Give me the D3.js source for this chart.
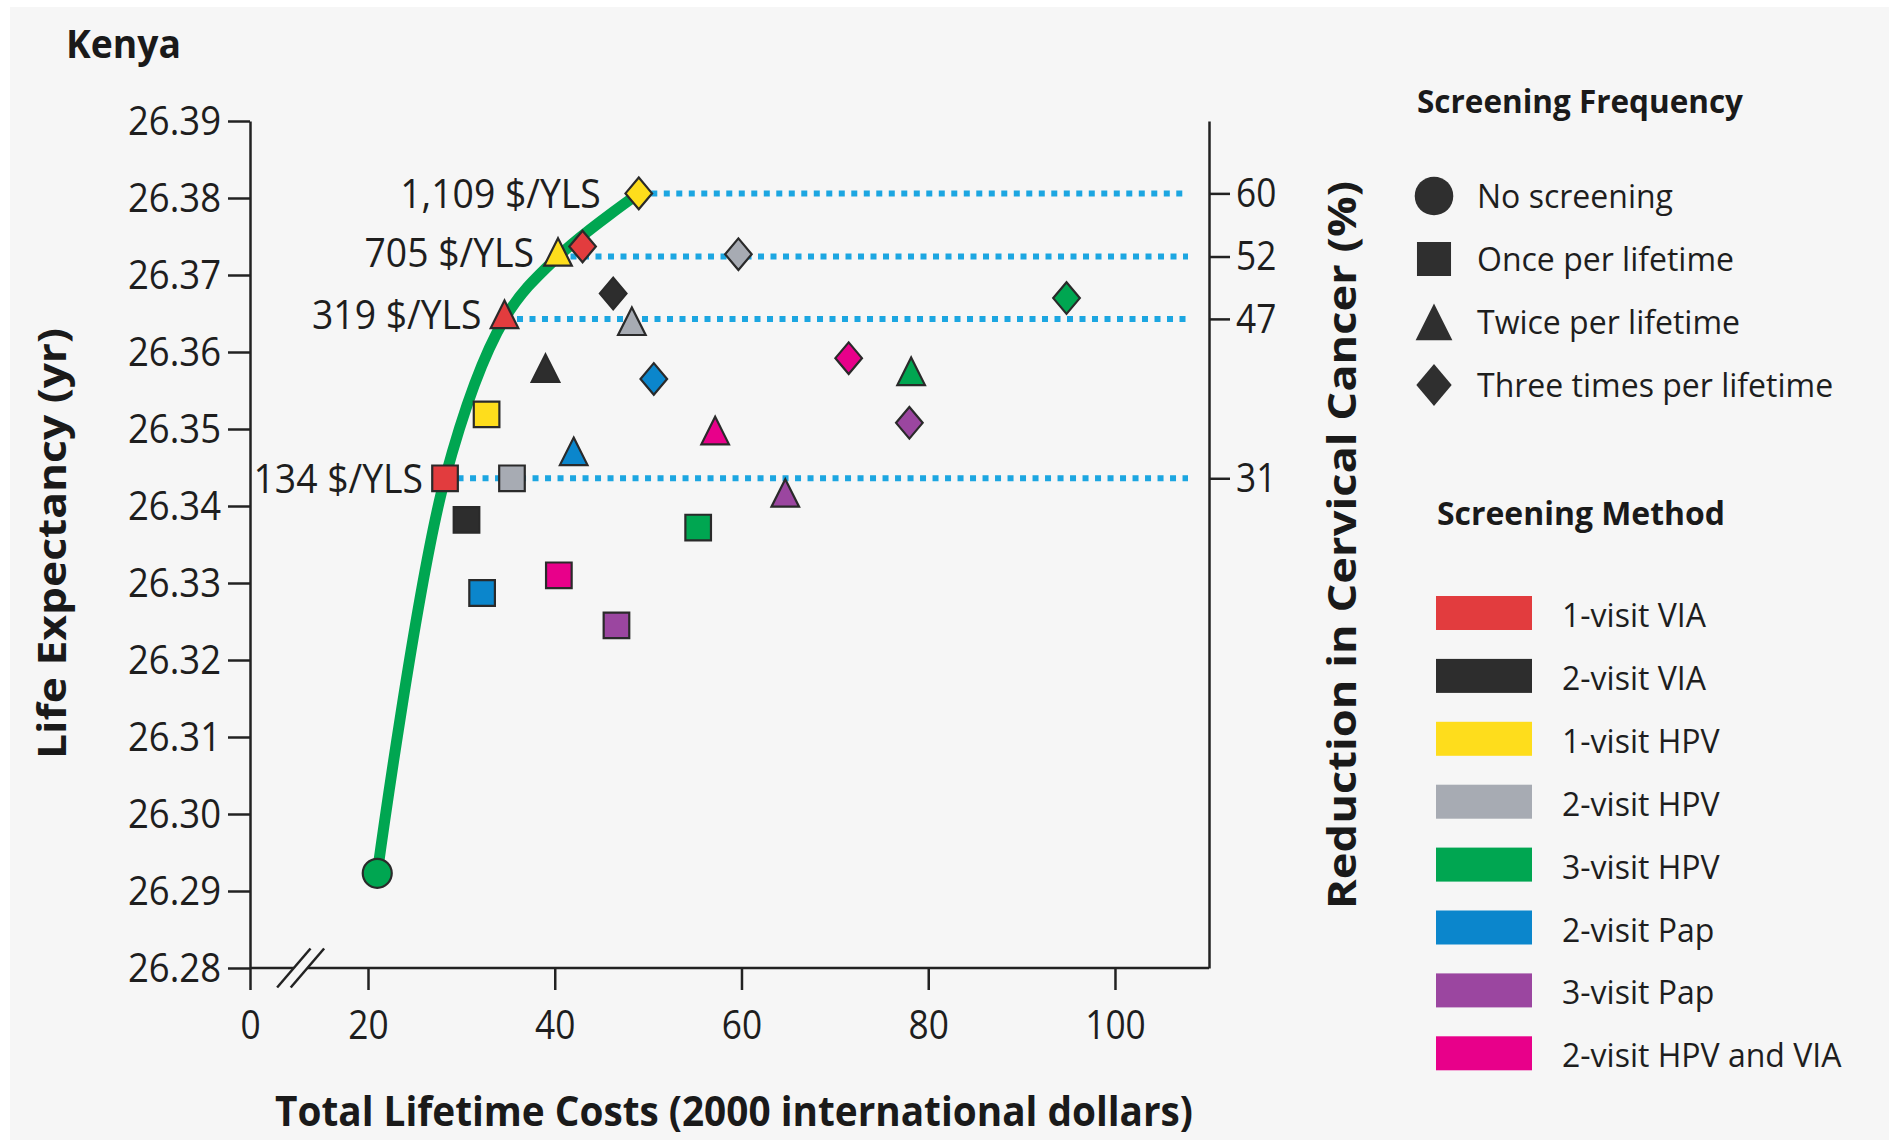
<!DOCTYPE html>
<html>
<head>
<meta charset="utf-8">
<script src="https://cdn.jsdelivr.net/npm/d3@7"></script>
<style>
  html, body { margin: 0; padding: 0; background: #fff; }
  svg { display: block; font-family: 'Open Sans', 'Noto Sans', sans-serif; }
  .axis text { font-size: 41px; fill: #1e1e1e; font-family: 'Open Sans', sans-serif; }
  .axis line, .axis path { stroke: #222; stroke-width: 2.5; }
</style>
</head>
<body>
<div id="chart"></div>
<script>
;(function () {
  // ---- data ----
  const methods = ['1-visit VIA', '2-visit VIA', '1-visit HPV', '2-visit HPV',
    '3-visit HPV', '2-visit Pap', '3-visit Pap', '2-visit HPV and VIA']
  const methodColors = ['#e23c3e', '#2d2d2d', '#fedd1c', '#a7abb3',
    '#00a651', '#0b86cc', '#9b46a0', '#e8008a']
  const frequencies = ['No screening', 'Once per lifetime', 'Twice per lifetime',
    'Three times per lifetime']
  const shapes = ['circle', 'square', 'triangle', 'diamond']

  // total lifetime costs (2000 international dollars), one value per method
  const costOnce = [28.25, 30.55, 32.7, 35.42, 55.36, 32.22, 46.61, 40.44]
  const costTwice = [34.62, 39.01, 40.35, 48.26, 78.17, 42.03, 64.69, 57.18]
  const costThree = [42.98, 46.26, 49.0, 59.67, 94.81, 50.61, 77.98, 71.48]
  // life expectancy (yr)
  const lifeOnce = [26.3436, 26.3382, 26.3519, 26.3436, 26.3372, 26.3287, 26.3245, 26.331]
  const lifeTwice = [26.3643, 26.3573, 26.3724, 26.3634, 26.3569, 26.3465, 26.3411, 26.3492]
  const lifeThree = [26.3737, 26.3676, 26.3806, 26.3727, 26.367, 26.3565, 26.3508, 26.3592]
  const noScreenCost = 20.99
  const noScreenLife = 26.2923

  // efficient frontier: [method index (-1 = none), frequency index]
  const frontier = [[-1, 0], [0, 1], [0, 2], [2, 2], [2, 3]]
  const frontierIcer = [null, '134 $/YLS', '319 $/YLS', '705 $/YLS', '1,109 $/YLS']
  const frontierReduction = [null, 31, 47, 52, 60]

  const xTicks = [0, 20, 40, 60, 80, 100]
  const yTicks = [26.28, 26.29, 26.3, 26.31, 26.32, 26.33, 26.34, 26.35, 26.36, 26.37, 26.38, 26.39]

  // ---- layout ----
  const W = 1889, H = 1140
  const axisLeftX = 250, axisRightX = 1209, axisBottomY = 968, axisTopY = 121
  const breakAt = 8.58 // value on the broken x axis where the // sits
  const breakGap = 6.8
  const labelGap = [0, 22, 23, 24, 38]
  const dotEnd = axisRightX - 21

  const svg = d3.select('#chart').append('svg').attr('width', W).attr('height', H)
  svg.append('rect').attr('x', 10).attr('y', 7).attr('width', W - 10).attr('height', H - 7)
    .attr('fill', '#f6f6f6')

  // piecewise scale handles the 0 .. 20 axis break
  const x = d3.scaleLinear().domain([0, 20, 110.07]).range([axisLeftX, 368, axisRightX])
  const y = d3.scaleLinear().domain([26.28, 26.39]).range([axisBottomY, axisTopY])

  // build point table
  const points = []
  points.push({ m: -1, f: 0, cost: noScreenCost, life: noScreenLife })
  ;[costOnce, costTwice, costThree].forEach((costs, fi) => {
    const lifes = [lifeOnce, lifeTwice, lifeThree][fi]
    methods.forEach((m, mi) => {
      points.push({ m: mi, f: fi + 1, cost: costs[mi], life: lifes[mi] })
    })
  })
  const findPoint = (mi, fi) => points.find(p => p.m === mi && p.f === fi)
  const frontierPts = frontier.map(([mi, fi]) => findPoint(mi, fi))

  function shapePath(shape, big) {
    const k = big ? 1.33 : 1
    if (shape === 'circle') {
      const r = 14.5 * k
      return `M${r},0A${r},${r} 0 1,1 ${-r},0A${r},${r} 0 1,1 ${r},0Z`
    }
    if (shape === 'square') {
      const s = 12.8 * k
      return `M${-s},${-s}H${s}V${s}H${-s}Z`
    }
    if (shape === 'triangle') {
      const hw = 13.8 * k, h = 27.5 * k
      return `M0,${-2 * h / 3}L${hw},${h / 3}L${-hw},${h / 3}Z`
    }
    const hw = 13.3 * k, hh = 15.8 * k
    return `M0,${-hh}L${hw},0L0,${hh}L${-hw},0Z`
  }
  const centerShift = shape => (shape === 'triangle' ? -4.5 : 0)

  function squeeze(sel, k) {
    sel.each(function () {
      const w = this.getComputedTextLength()
      d3.select(this).attr('textLength', w * k).attr('lengthAdjust', 'spacingAndGlyphs')
    })
  }

  // ---- axes ----
  const gx = svg.append('g').attr('class', 'axis')
    .attr('transform', `translate(0,${axisBottomY})`)
    .call(d3.axisBottom(x).tickValues(xTicks).tickSize(22).tickPadding(20).tickFormat(d3.format('d')))
    .call(g => g.select('.domain').remove())
  squeeze(gx.selectAll('text'), 0.86)

  const xb = x(breakAt)
  svg.append('path')
    .attr('d', `M${axisLeftX},${axisBottomY}H${xb - breakGap}M${xb + breakGap},${axisBottomY}H${axisRightX}`)
    .attr('stroke', '#222').attr('stroke-width', 2.5).attr('fill', 'none')
  ;[-breakGap, breakGap].forEach(o => {
    svg.append('line')
      .attr('x1', xb + o - 16.7).attr('y1', axisBottomY + 19.5)
      .attr('x2', xb + o + 16.7).attr('y2', axisBottomY - 19.5)
      .attr('stroke', '#222').attr('stroke-width', 2.5)
  })

  const gy = svg.append('g').attr('class', 'axis')
    .attr('transform', `translate(${axisLeftX},0)`)
    .call(d3.axisLeft(y).tickValues(yTicks).tickSize(22).tickSizeOuter(0).tickPadding(7).tickFormat(d3.format('.2f')))
  squeeze(gy.selectAll('text'), 0.89)

  const gr = svg.append('g').attr('class', 'axis')
    .attr('transform', `translate(${axisRightX},0)`)
    .call(d3.axisRight(y)
      .tickValues(frontierPts.slice(1).map(p => p.life))
      .tickSize(21).tickSizeOuter(0).tickPadding(6)
      .tickFormat((d, i) => frontierReduction[i + 1]))
  squeeze(gr.selectAll('text'), 0.86)

  // ---- dotted reference lines ----
  svg.append('g').selectAll('line')
    .data(frontierPts.slice(1))
    .enter().append('line')
    .attr('x1', d => x(d.cost)).attr('x2', dotEnd)
    .attr('y1', d => y(d.life)).attr('y2', d => y(d.life))
    .attr('stroke', '#1ca6e1').attr('stroke-width', 6)
    .attr('stroke-dasharray', '6 6.5')

  // ---- frontier curve ----
  svg.append('path')
    .datum(frontierPts)
    .attr('fill', 'none')
    .attr('stroke', '#00a651')
    .attr('stroke-width', 11)
    .attr('stroke-linecap', 'round')
    .attr('d', d3.line().x(d => x(d.cost)).y(d => y(d.life)).curve(d3.curveCatmullRom.alpha(0.5)))

  // ---- markers ----
  svg.append('g').selectAll('path')
    .data(points)
    .enter().append('path')
    .attr('transform', d => `translate(${x(d.cost)},${y(d.life)})`)
    .attr('d', d => shapePath(shapes[d.f]))
    .attr('fill', d => (d.m < 0 ? '#00a651' : methodColors[d.m]))
    .attr('stroke', '#2a2a2a')
    .attr('stroke-width', 2.2)

  // ---- ICER labels ----
  const icer = svg.append('g').selectAll('text')
    .data(frontierPts.map((p, i) => ({ p, i })).filter(d => frontierIcer[d.i]))
    .enter().append('text')
    .attr('x', d => x(d.p.cost) - labelGap[d.i])
    .attr('y', d => y(d.p.life) + centerShift(shapes[d.p.f]) + 14.5)
    .attr('text-anchor', 'end')
    .style('font-size', '41px')
    .attr('fill', '#1e1e1e')
    .text(d => frontierIcer[d.i])
  squeeze(icer, 0.91)

  // ---- titles ----
  svg.append('text').attr('x', 66).attr('y', 58)
    .style('font-size', '40px').style('font-weight', 700).attr('fill', '#1a1a1a')
    .attr('textLength', 115).attr('lengthAdjust', 'spacingAndGlyphs')
    .text('Kenya')

  svg.append('text').attr('x', 734).attr('y', 1126)
    .attr('text-anchor', 'middle')
    .style('font-size', '41px').style('font-weight', 700).attr('fill', '#1a1a1a')
    .attr('textLength', 918).attr('lengthAdjust', 'spacingAndGlyphs')
    .text('Total Lifetime Costs (2000 international dollars)')

  svg.append('text').attr('transform', 'translate(66,543.5) rotate(-90)')
    .attr('text-anchor', 'middle')
    .style('font-size', '40px').style('font-weight', 700).attr('fill', '#1a1a1a')
    .attr('textLength', 431).attr('lengthAdjust', 'spacingAndGlyphs')
    .text('Life Expectancy (yr)')

  svg.append('text').attr('transform', 'translate(1356,545) rotate(-90)')
    .attr('text-anchor', 'middle')
    .style('font-size', '40px').style('font-weight', 700).attr('fill', '#1a1a1a')
    .attr('textLength', 728).attr('lengthAdjust', 'spacingAndGlyphs')
    .text('Reduction in Cervical Cancer (%)')

  // ---- legend: frequency ----
  const freqLegend = svg.append('g')
  freqLegend.append('text').attr('x', 1417).attr('y', 113)
    .style('font-size', '32px').style('font-weight', 700).attr('fill', '#1a1a1a')
    .attr('textLength', 326).attr('lengthAdjust', 'spacingAndGlyphs')
    .text('Screening Frequency')
  const fRows = freqLegend.selectAll('.f-row').data(frequencies).enter()
    .append('g').attr('class', 'f-row')
    .attr('transform', (d, i) => `translate(0,${208 + i * 63})`)
  fRows.append('path')
    .attr('transform', (d, i) => `translate(1434,${shapes[i] === 'triangle' ? -6 : -12})`)
    .attr('d', (d, i) => shapePath(shapes[i], true))
    .attr('fill', '#2f2f2f')
  fRows.append('text').attr('x', 1477)
    .style('font-size', '32px').attr('fill', '#1e1e1e')
    .text(d => d)

  // ---- legend: method ----
  const methLegend = svg.append('g')
  methLegend.append('text').attr('x', 1437).attr('y', 525)
    .style('font-size', '32px').style('font-weight', 700).attr('fill', '#1a1a1a')
    .attr('textLength', 288).attr('lengthAdjust', 'spacingAndGlyphs')
    .text('Screening Method')
  const mRows = methLegend.selectAll('.m-row').data(methods).enter()
    .append('g').attr('class', 'm-row')
    .attr('transform', (d, i) => `translate(0,${596 + i * 62.9})`)
  mRows.append('rect').attr('x', 1436).attr('width', 96).attr('height', 34)
    .attr('fill', (d, i) => methodColors[i])
  mRows.append('text').attr('x', 1562).attr('y', 31)
    .style('font-size', '32px').attr('fill', '#1e1e1e')
    .text(d => d)
})()
</script>
</body>
</html>
